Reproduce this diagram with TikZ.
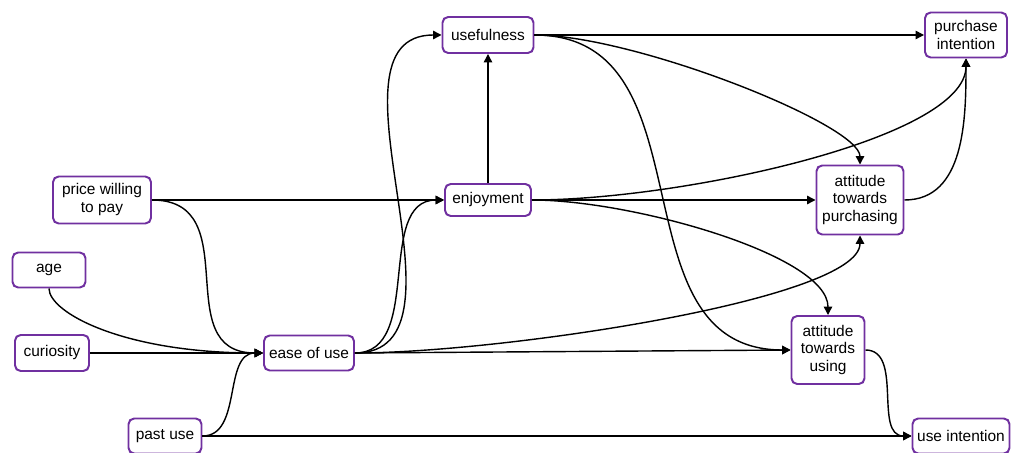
\documentclass[tikz,border=0pt]{standalone}
\usepackage{fontspec}
\setmainfont{Liberation Sans}
\usetikzlibrary{arrows.meta}
\definecolor{boxpurple}{RGB}{112,48,160}

\begin{document}
\begin{tikzpicture}[>={Triangle[length=6pt,width=6pt]},
  factor/.style={rectangle,
        draw = boxpurple,
        line width = 1.4pt,
        rounded corners = 4pt,
        align = center,
        inner sep = 0pt,
        font = \fontsize{11}{12.8}\selectfont}]

  \useasboundingbox (0,0) rectangle (25.3,-11.325);

  % top row
  \node[factor,
        minimum width = 2.275cm,
        minimum height = 0.9cm
        ] (useful) at (12.2,-0.875) {usefulness};

  \node[factor,
        minimum width = 2.05cm,
        minimum height = 1.125cm
        ] (purint) at (24.15,-0.875) {purchase\\intention};

  % middle row
  \node[factor,
        minimum width = 2.45cm,
        minimum height = 1.175cm
        ] (price) at (2.55,-5.0) {price willing\\to pay};

  \node[factor,
        minimum width = 2.15cm,
        minimum height = 0.8cm
        ] (enjoy) at (12.2,-5.0) {enjoyment};

  \node[factor,
        minimum width = 2.175cm,
        minimum height = 1.725cm
        ] (attpur) at (21.5,-5.0) {attitude\\towards\\purchasing};

  % left column
  \node[factor,
        minimum width = 1.825cm,
        minimum height = 0.875cm
        ] (age) at (1.225,-6.75) {age};

  \node[factor,
        minimum width = 1.85cm,
        minimum height = 0.9cm
        ] (curio) at (1.3,-8.825) {curiosity};

  \node[factor,
        minimum width = 2.25cm,
        minimum height = 0.875cm
        ] (ease) at (7.725,-8.825) {ease of use};

  \node[factor,
        minimum width = 1.825cm,
        minimum height = 1.7cm
        ] (attuse) at (20.7,-8.75) {attitude\\towards\\using};

  % bottom row
  \node[factor,
        minimum width = 1.825cm,
        minimum height = 0.875cm
        ] (past) at (4.125,-10.9) {past use};

  \node[factor,
        minimum width = 2.425cm,
        minimum height = 0.875cm
        ] (useint) at (24.025,-10.9) {use intention};

  \path[->, line width = 1pt]
  % into ease of use
  (price.east) edge [out=0, in=180, looseness=1.3] (ease.west)
  (age.south) edge [out=-90, in=180, out distance=0.6cm, in distance=3.5cm] (ease.west)
  (curio) edge [] (ease.west)
  (past.east) edge [out=0, in=180] (ease.west)
  (past) edge [] (useint)
  % from ease of use
  (ease.east) edge [out=0, in=180] (useful.west)
  (ease.east) edge [out=0, in=180] (enjoy.west)
  (ease.east) edge [out=0, in=-90, out distance=3.65cm, in distance=1.6cm] (attpur.south)
  (ease.east) edge [] (attuse.west)
  % from enjoyment
  (price) edge [] (enjoy)
  (enjoy) edge [] (useful)
  (enjoy.east) edge [out=0, in=-90, out distance=3.75cm, in distance=2cm] (purint.south)
  (enjoy) edge [] (attpur)
  (enjoy.east) edge [out=0, in=90, out distance=2.5cm, in distance=1.5cm] (attuse.north)
  % from usefulness
  (useful) edge [] (purint)
  (useful.east) edge [out=0, in=90, out distance=2.5cm, in distance=1cm] (attpur.north)
  (useful.east) edge [out=0, in=180, out distance=4.5cm, in distance=4.5cm] (attuse.west)
  % attitudes
  (attpur.east) edge [out=0, in=-90] (purint.south)
  (attuse.east) edge [out=0, in=180] (useint.west);

\end{tikzpicture}
\end{document}
